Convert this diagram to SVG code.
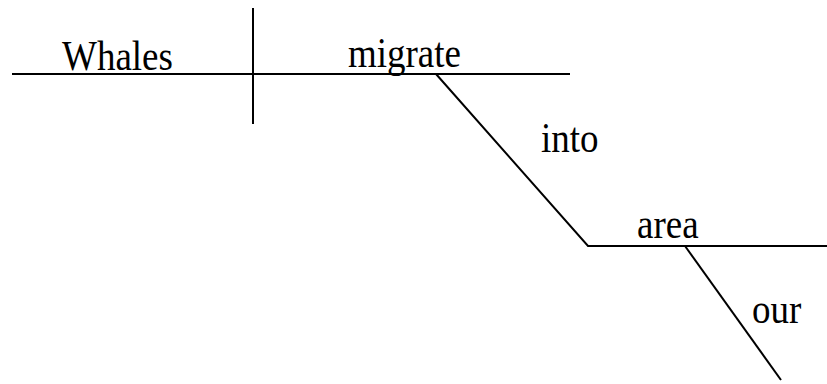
<svg xmlns="http://www.w3.org/2000/svg" width="827" height="384" viewBox="0 0 827 384">
<style>
.l{stroke:#000;stroke-width:2;fill:none;stroke-linecap:butt}
.t{font-family:"Liberation Serif","Times New Roman",serif;font-size:37px;fill:#000}
</style>
<rect width="827" height="384" fill="#fff"/>
<g id="connectors">
<line class="l" x1="12" y1="74" x2="570" y2="74"/>
<line class="l" x1="253" y1="8" x2="253" y2="124"/>
<polyline class="l" points="436,74 588,246 827,246"/>
<line class="l" x1="685" y1="246" x2="781" y2="380"/>
</g>
<g id="whales"><text class="t" transform="translate(62,69.5) scale(1,1.12)">Whales</text></g>
<g id="migrate"><text class="t" transform="translate(348,66.5) scale(1,1.12)">migrate</text></g>
<g id="into"><text class="t" transform="translate(541,151.5) scale(1,1.12)">into</text></g>
<g id="area"><text class="t" transform="translate(637,237.5) scale(1,1.12)">area</text></g>
<g id="our"><text class="t" transform="translate(752,322.5) scale(1,1.12)">our</text></g>
</svg>
